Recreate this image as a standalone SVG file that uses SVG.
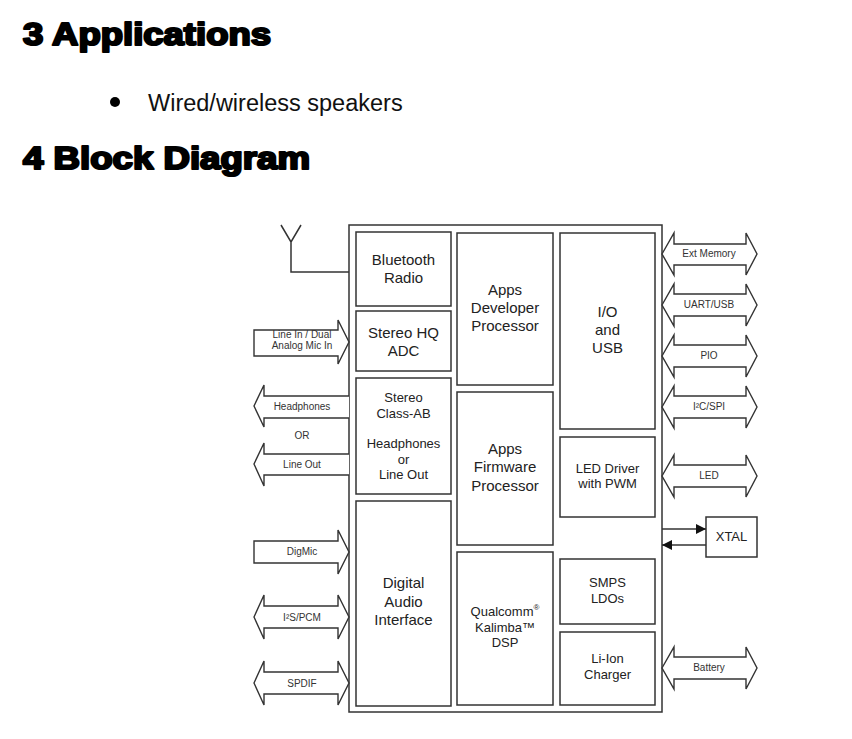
<svg xmlns="http://www.w3.org/2000/svg" width="852" height="739" viewBox="0 0 852 739">
<style>
.h{font-family:"Liberation Sans",Arial,sans-serif;font-weight:bold;font-size:31px;fill:#000;stroke:#000;stroke-width:2.2px;stroke-linejoin:round}
.b{fill:#fff;stroke:#333;stroke-width:1.5}
.a{fill:#fff;stroke:#333;stroke-width:1.4;stroke-linejoin:miter}
.ln{fill:none;stroke:#333;stroke-width:1.5}
.t{font-family:"Liberation Sans",Arial,sans-serif;font-size:15px;fill:#222;text-anchor:middle}
.s{font-family:"Liberation Sans",Arial,sans-serif;font-size:13px;fill:#222;text-anchor:middle}
.l{font-family:"Liberation Sans",Arial,sans-serif;font-size:10px;fill:#333;text-anchor:middle}
</style>
<defs>
<marker id="ah" viewBox="0 0 10 10" refX="10" refY="5" markerWidth="10" markerHeight="10" markerUnits="userSpaceOnUse" orient="auto">
<path d="M0,0 L10,5 L0,10 Z" fill="#111"/>
</marker>
</defs>
<rect width="852" height="739" fill="#fff"/>
<text class="h" x="23" y="45" textLength="248" lengthAdjust="spacingAndGlyphs">3 Applications</text>
<circle cx="115" cy="102" r="5" fill="#000"/>
<text x="148" y="111" font-family="Liberation Sans, Arial, sans-serif" font-size="23.5" fill="#111">Wired/wireless speakers</text>
<text class="h" x="23" y="169" textLength="287" lengthAdjust="spacingAndGlyphs">4 Block Diagram</text>

<g id="chip"><rect class="b" x="349" y="225" width="313" height="487"/></g>

<g id="bt"><rect class="b" x="356" y="232" width="95" height="74"/><text class="t" x="403.5" y="265">Bluetooth</text><text class="t" x="403.5" y="283">Radio</text></g>
<g id="adc"><rect class="b" x="356" y="311" width="95" height="60"/><text class="t" x="403.5" y="338">Stereo HQ</text><text class="t" x="403.5" y="356">ADC</text></g>
<g id="classab"><rect class="b" x="356" y="378" width="95" height="116"/><text class="s" x="403.5" y="402">Stereo</text><text class="s" x="403.5" y="418">Class-AB</text><text class="s" x="403.5" y="448">Headphones</text><text class="s" x="403.5" y="464">or</text><text class="s" x="403.5" y="479">Line Out</text></g>
<g id="dai"><rect class="b" x="356" y="501" width="95" height="205"/><text class="t" x="403.5" y="588">Digital</text><text class="t" x="403.5" y="607">Audio</text><text class="t" x="403.5" y="625">Interface</text></g>

<g id="appdev"><rect class="b" x="457" y="233" width="96" height="152"/><text class="t" x="505" y="295">Apps</text><text class="t" x="505" y="313">Developer</text><text class="t" x="505" y="331">Processor</text></g>
<g id="appfw"><rect class="b" x="457" y="392" width="96" height="153"/><text class="t" x="505" y="454">Apps</text><text class="t" x="505" y="472">Firmware</text><text class="t" x="505" y="491">Processor</text></g>
<g id="dsp"><rect class="b" x="457" y="552" width="96" height="153"/><text class="s" x="505" y="616">Qualcomm<tspan font-size="8" dy="-6">®</tspan></text><text class="s" x="505" y="632">Kalimba™</text><text class="s" x="505" y="647">DSP</text></g>

<g id="io"><rect class="b" x="560" y="233" width="95" height="196"/><text class="t" x="607.5" y="317">I/O</text><text class="t" x="607.5" y="335">and</text><text class="t" x="607.5" y="353">USB</text></g>
<g id="led"><rect class="b" x="560" y="437" width="95" height="80"/><text class="s" x="607.5" y="473">LED Driver</text><text class="s" x="607.5" y="488">with PWM</text></g>
<g id="smps"><rect class="b" x="560" y="559" width="95" height="65"/><text class="s" x="607.5" y="587">SMPS</text><text class="s" x="607.5" y="603">LDOs</text></g>
<g id="charger"><rect class="b" x="560" y="632" width="95" height="73"/><text class="s" x="607.5" y="663">Li-Ion</text><text class="s" x="607.5" y="679">Charger</text></g>

<g id="xtal"><rect class="b" x="706" y="517" width="51" height="40"/><text class="s" x="731.5" y="541">XTAL</text></g>

<g id="connectors">
<path class="ln" d="M281,225 L291,242 L301,225 M291,242 L291,272 L349,272"/>
<line class="ln" x1="662" y1="529" x2="706" y2="529" marker-end="url(#ah)"/>
<line class="ln" x1="706" y1="545" x2="662" y2="545" marker-end="url(#ah)"/>

<path class="a" d="M254,330 L338,330 L338,320 L349,342 L338,364 L338,356 L254,356 Z"/>
<path class="a" d="M349,396 L264,396 L264,385 L254,406 L264,427 L264,418 L349,418"/>
<path class="a" d="M349,454 L264,454 L264,443 L254,464 L264,486 L264,475 L349,475"/>
<path class="a" d="M254,541 L338,541 L338,530 L349,552 L338,574 L338,563 L254,563 Z"/>
<path class="a" d="M254,617 L264,595 L264,606 L338,606 L338,595 L349,617 L338,639 L338,628 L264,628 L264,639 Z"/>
<path class="a" d="M254,683 L264,661 L264,672 L338,672 L338,661 L349,683 L338,705 L338,694 L264,694 L264,705 Z"/>

<path class="a" d="M662,254 L674,233 L674,244 L746,244 L746,233 L757,254 L746,275 L746,265 L674,265 L674,275 Z"/>
<path class="a" d="M662,305 L674,284 L674,294 L746,294 L746,284 L757,305 L746,326 L746,316 L674,316 L674,326 Z"/>
<path class="a" d="M662,356 L674,335 L674,345 L746,345 L746,335 L757,356 L746,377 L746,367 L674,367 L674,377 Z"/>
<path class="a" d="M662,407 L674,386 L674,396 L746,396 L746,386 L757,407 L746,428 L746,418 L674,418 L674,428 Z"/>
<path class="a" d="M662,476 L674,455 L674,465 L746,465 L746,455 L757,476 L746,497 L746,487 L674,487 L674,497 Z"/>
<path class="a" d="M662,668 L674,647 L674,657 L746,657 L746,647 L757,668 L746,689 L746,679 L674,679 L674,689 Z"/>

<text class="l" x="302" y="338" font-size="7">Line In / Dual</text>
<text class="l" x="302" y="349" font-size="7">Analog Mic In</text>
<text class="l" x="302" y="410">Headphones</text>
<text class="l" x="302" y="439">OR</text>
<text class="l" x="302" y="468">Line Out</text>
<text class="l" x="302" y="555">DigMic</text>
<text class="l" x="302" y="621">I²S/PCM</text>
<text class="l" x="302" y="687">SPDIF</text>
<text class="l" x="709" y="257">Ext Memory</text>
<text class="l" x="709" y="308">UART/USB</text>
<text class="l" x="709" y="359">PIO</text>
<text class="l" x="709" y="410">I²C/SPI</text>
<text class="l" x="709" y="479">LED</text>
<text class="l" x="709" y="671">Battery</text>
</g>
</svg>
